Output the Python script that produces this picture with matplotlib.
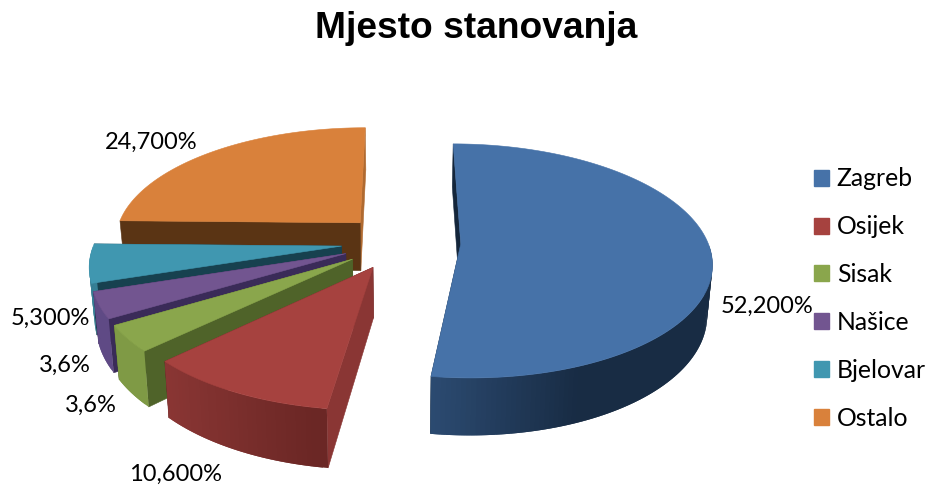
import numpy as np
import matplotlib
matplotlib.use("Agg")
import matplotlib.pyplot as plt
from matplotlib.colors import to_rgb
from matplotlib.patches import Patch, Polygon

title = "Mjesto stanovanja"
cities = ["Zagreb", "Osijek", "Sisak", "Našice", "Bjelovar", "Ostalo"]
shares = [52.2, 10.6, 3.6, 3.6, 5.3, 24.7]
share_labels = ["52,200%", "10,600%", "3,6%", "3,6%", "5,300%", "24,700%"]

# boje: gornja ploha, radijalne stijenke, vanjski rub (lijevo -> desno)
top_colors = ["#4672a8", "#a6423f", "#8aa64c", "#725590", "#4097b0", "#d9813b"]
start_wall = ["#14263b", "#8a3634", "#4f6329", "#3a2b58", "#17414f", "#5a3414"]
end_wall = ["#14263b", "#5f2422", "#4f6329", "#3a2b58", "#17414f", "#b06a30"]
rim_left = ["#2c4b72", "#8a3634", "#7f9a45", "#5f4a85", "#367f95", "#5a3414"]
rim_right = ["#182c44", "#6b2725", "#7f9a45", "#5f4a85", "#367f95", "#5a3414"]

# parametri projekcije (u pikselima slike)
X0, Y0 = 401, 242
RX, RY = 247, 114
PERSP = 0.145
EXPLODE = 0.242
DEPTH = 49
BOTTOM_SHRINK = 0.983
GRADIENT_PX = 150

label_pos = [(767, 306), (176, 474), (91, 405), (65, 365), (50, 318), (151, 142)]
draw_order = [5, 0, 4, 3, 2, 1]


def project(U, V, bottom=False):
    s = 1 / (1 - PERSP * V)
    x = X0 + s * RX * U
    y = Y0 + s * RY * V
    if bottom:
        x = X0 + (x - X0) * BOTTOM_SHRINK
        y = y + s * DEPTH
    return np.column_stack([x, y])


def quad(ax, top_pts, bottom_pts, color, lw=0.4):
    pts = np.vstack([top_pts, bottom_pts[::-1]])
    ax.add_patch(Polygon(pts, closed=True, fc=color, ec=color if lw else "none", lw=lw))


fig = plt.figure(figsize=(9.26, 4.87), dpi=100)
ax = fig.add_axes([0, 0, 1, 1])
ax.set_xlim(0, 926)
ax.set_ylim(487, 0)
ax.axis("off")

edges = np.concatenate([[0], np.cumsum(shares)]) / sum(shares) * 2 * np.pi

for i in draw_order:
    a0, a1 = edges[i], edges[i + 1]
    mid = (a0 + a1) / 2
    cu = EXPLODE * np.sin(mid)
    cv = -EXPLODE * np.cos(mid)
    t = np.linspace(a0, a1, max(8, int(np.degrees(a1 - a0))))
    U = cu + np.sin(t)
    V = cv - np.cos(t)
    arc_top = project(U, V)
    arc_bot = project(U, V, bottom=True)
    tip_top = project(np.array([cu]), np.array([cv]))
    tip_bot = project(np.array([cu]), np.array([cv]), bottom=True)

    # radijalne stijenke idu prve, rub ih pokriva
    quad(ax, np.vstack([tip_top, arc_top[-1:]]), np.vstack([tip_bot, arc_bot[-1:]]), end_wall[i])
    quad(ax, np.vstack([tip_top, arc_top[:1]]), np.vstack([tip_bot, arc_bot[:1]]), start_wall[i])

    # vanjski rub, samo prednji dio; trake se preklapaju da se ne vide spojevi
    left = np.array(to_rgb(rim_left[i]))
    right = np.array(to_rgb(rim_right[i]))
    xmin = arc_top[:, 0].min()
    front = np.nonzero(np.cos(t) <= 0)[0]
    for k in front[:-1]:
        f = min((arc_top[k, 0] - xmin) / GRADIENT_PX, 1)
        quad(ax, arc_top[k:k + 3], arc_bot[k:k + 3], left + (right - left) * f, lw=0)

    ax.add_patch(Polygon(np.vstack([tip_top, arc_top]), closed=True,
                         fc=top_colors[i], ec=top_colors[i], lw=0.4))

for lab, (lx, ly) in zip(share_labels, label_pos):
    ax.text(lx, ly, lab, ha="center", va="center", family="Lato", fontsize=17, color="black")

ax.text(476, 29, title, ha="center", va="center", family="Liberation Sans",
        fontweight="bold", fontsize=26.7, color="black")

handles = [Patch(fc=c, ec=c) for c in top_colors]
ax.legend(handles, cities, loc="center left", bbox_to_anchor=(814 / 926, 1 - 298.5 / 487),
          bbox_transform=fig.transFigure, frameon=False,
          prop={"family": "Lato", "size": 17.8}, handlelength=0.62, handleheight=0.62,
          handletextpad=0.3, labelspacing=1.005, borderaxespad=0, borderpad=0)

fig.savefig("out.png", dpi=100)
